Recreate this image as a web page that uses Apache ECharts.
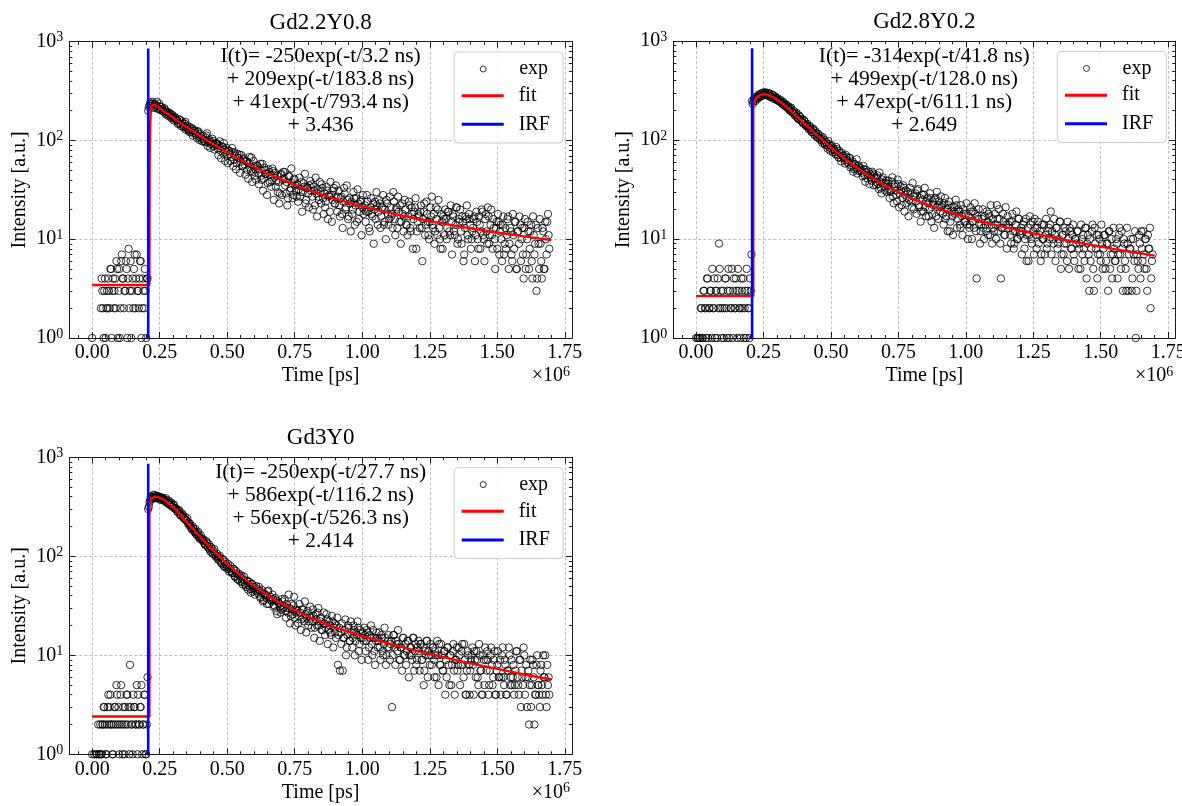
<!DOCTYPE html>
<html>
<head>
<meta charset="utf-8">
<script src="https://cdn.jsdelivr.net/npm/echarts@6/dist/echarts.min.js"></script>
<style>html,body{margin:0;padding:0;background:#fff}#chart{width:1182px;height:806px}</style>
</head>
<body>
<div id="chart"></div>
<script>
// ---------- data ----------
const panelTitles = ['Gd2.2Y0.8', 'Gd2.8Y0.2', 'Gd3Y0'];
const fitTexts = [
  ['I(t)= -250exp(-t/3.2 ns)', '+ 209exp(-t/183.8 ns)', '+ 41exp(-t/793.4 ns)', '+ 3.436'],
  ['I(t)= -314exp(-t/41.8 ns)', '+ 499exp(-t/128.0 ns)', '+ 47exp(-t/611.1 ns)', '+ 2.649'],
  ['I(t)= -250exp(-t/27.7 ns)', '+ 586exp(-t/116.2 ns)', '+ 56exp(-t/526.3 ns)', '+ 2.414']
];
const xTickLabels = ['0.00', '0.25', '0.50', '0.75', '1.00', '1.25', '1.50', '1.75'];
const xTickStep = 250000;
const yTickExponents = [0, 1, 2, 3];

// histogram bins (ps): "A" bins at k*5000, "B" bins at k*5000 + 2500
const binPitch = 5000;
const binOffsetB = 2500;

const gd22CountsA = [
  1, null, null, null, null, null, null, 4, 2, 3, 1, 3, 4, 2, 5, 3, 2, 4, 6, 1,
  5, 2, 7, 4, 3, 6, 1, 8, 3, 1, 4, 5, 2, 7, 3, 4, 6, 2, 3, 5, 1, 4,
  218, 241, 224, 236, 219, 228, 246, 212, 221, 207,
  209, 196, 203, 187, 192, 181, 186, 172, 176, 165,
  168, 159, 151, 162, 146, 149, 139, 154, 134, 130,
  137, 126, 131, 119, 127, 114, 122, 109, 117, 104,
  111, 99, 107, 118, 95, 101, 92, 104, 87, 90,
  94, 83, 89, 79, 86, 74, 81, 77, 70, 79,
  73, 68, 76, 64, 70, 59, 67, 72, 61, 55,
  64, 57, 62, 50, 59, 53, 67, 48, 55, 51,
  56, 47, 52, 44, 58, 41, 50, 46, 37, 48,
  45, 39, 49, 42, 34, 44, 38, 29, 46, 40,
  41, 35, 38, 26, 43, 33, 37, 28, 40, 31,
  36, 32, 27, 38, 30, 34, 23, 33, 29, 35,
  31, 27, 34, 22, 29, 32, 25, 30, 36, 26,
  29, 24, 31, 27, 19, 28, 25, 33, 23, 26,
  27, 22, 26, 18, 24, 29, 21, 25, 17, 23,
  24, 20, 26, 22, 15, 23, 19, 25, 21, 18,
  22, 19, 24, 13, 21, 18, 23, 20, 16, 22,
  19, 23, 17, 21, 14, 20, 25, 18, 16, 21,
  18, 30, 16, 20, 13, 19, 22, 15, 18, 17,
  20, 14, 17, 22, 12, 18, 16, 21, 8, 15,
  17, 19, 13, 16, 23, 14, 18, 11, 15, 17,
  14, 18, 12, 16, 20, 13, 8, 15, 17, 11,
  16, 13, 19, 11, 15, 18, 12, 14, 21, 10,
  15, 12, 17, 6, 13, 16, 11, 18, 14, 10,
  13, 17, 11, 15, 8, 14, 12, 19, 10, 16,
  12, 21, 9, 14, 11, 16, 10, 13, 8, 15,
  12, 10, 14, 7, 13, 11, 17, 9, 12, 6,
  11, 15, 5, 12, 9, 14, 10, 7, 13, 5,
  10, 12, 8, 14, 4, 11, 9, 3, 13, 5,
  9, 4, 12, 5, 10, 15, 11
];
const gd22CountsB = [
  null, null, null, null, null, null, 2, 3, 1, 4, 2, 2, 3, 5, 1, 4, 3, 2, 5, 3,
  1, 6, 4, 2, 3, 5, 4, 2, 6, 3, 2, 7, 4, 3, 2, 6, 1, 4, 2, 3, 4, 200,
  226, 233, 247, 214, 232, 225, 209, 236, 203, 218,
  199, 212, 184, 195, 177, 190, 168, 181, 159, 171,
  160, 147, 163, 141, 156, 136, 148, 128, 141, 125,
  121, 134, 112, 125, 119, 106, 124, 101, 112, 98,
  103, 96, 112, 88, 98, 84, 95, 99, 81, 93,
  92, 71, 98, 66, 87, 94, 62, 84, 59, 78,
  62, 84, 55, 76, 51, 73, 66, 47, 71, 56,
  66, 45, 61, 41, 68, 49, 38, 62, 44, 40,
  55, 36, 58, 40, 31, 53, 46, 28, 51, 38,
  34, 52, 25, 47, 39, 30, 23, 45, 28, 48,
  48, 29, 22, 44, 31, 52, 26, 41, 35, 27,
  24, 42, 30, 19, 37, 46, 25, 33, 21, 39,
  36, 20, 31, 42, 17, 27, 38, 23, 33, 18,
  21, 34, 16, 28, 38, 15, 31, 23, 35, 19,
  31, 17, 27, 13, 33, 20, 35, 16, 26, 12,
  18, 30, 14, 26, 32, 16, 24, 11, 28, 20,
  15, 28, 19, 12, 26, 17, 9, 24, 30, 14,
  25, 13, 21, 28, 15, 10, 23, 14, 27, 17,
  13, 24, 11, 21, 27, 15, 9, 23, 12, 25,
  14, 11, 24, 13, 21, 8, 19, 26, 12, 18,
  13, 22, 6, 19, 11, 24, 15, 10, 21, 27,
  13, 9, 21, 11, 25, 10, 18, 8, 16, 20,
  10, 19, 12, 22, 7, 17, 11, 21, 9, 16,
  20, 9, 15, 7, 17, 22, 10, 16, 8, 12,
  16, 6, 19, 10, 17, 8, 20, 11, 6, 18,
  9, 17, 11, 20, 8, 13, 5, 15, 18, 7,
  14, 6, 17, 9, 8, 16, 5, 13, 7, 18,
  8, 15, 5, 12, 17, 6, 13, 4, 16, 7,
  15, 5, 12, 6, 17, 7, 14, 4, 9, 16,
  6, 13, 5, 15, 7, 18, 8
];

const gd28CountsA = [
  1, 1, null, 1, 2, 1, 3, 2, 4, 1, 2, 3, 5, 2, 1, 3, 4, 9, 2, 1,
  3, 2, 4, 1, 5, 3, 2, 1, 4, 2, 3, 5, 2, 1, 3, 4, 2, 1, 3, 2, 4, 7,
  232, 262, 249, 271, 268, 283, 279, 296, 288, 302,
  291, 285, 298, 280, 273, 284, 266, 270, 259, 252,
  248, 241, 232, 236, 221, 226, 214, 205, 209, 193,
  190, 181, 185, 170, 163, 172, 156, 150, 159, 143,
  141, 134, 139, 127, 121, 130, 114, 118, 108, 112,
  104, 99, 107, 93, 96, 88, 98, 84, 87, 80,
  82, 76, 85, 71, 78, 66, 74, 69, 63, 71,
  63, 58, 66, 55, 61, 51, 57, 64, 49, 53,
  52, 47, 55, 44, 50, 41, 48, 45, 39, 46,
  44, 38, 42, 36, 47, 33, 40, 37, 31, 39,
  36, 32, 30, 38, 27, 34, 31, 24, 36, 29,
  31, 26, 33, 28, 23, 30, 25, 29, 21, 27,
  27, 24, 31, 22, 26, 19, 25, 28, 21, 24,
  23, 20, 26, 18, 22, 25, 17, 21, 24, 19,
  21, 18, 23, 16, 20, 22, 12, 19, 17, 21,
  18, 22, 16, 19, 13, 17, 20, 15, 18, 14,
  17, 14, 19, 15, 13, 18, 4, 16, 14, 12,
  16, 13, 17, 12, 15, 18, 11, 14, 16, 12,
  14, 22, 12, 16, 4, 13, 15, 11, 14, 17,
  13, 11, 15, 12, 9, 14, 10, 16, 12, 13,
  12, 15, 10, 6, 13, 11, 14, 9, 12, 16,
  11, 13, 9, 12, 7, 10, 14, 11, 8, 12,
  10, 19, 12, 9, 11, 13, 8, 10, 15, 7,
  11, 9, 12, 6, 10, 13, 8, 11, 7, 10,
  9, 12, 8, 5, 10, 11, 6, 13, 9, 7,
  10, 8, 14, 3, 9, 11, 7, 10, 6, 9,
  8, 11, 6, 9, 12, 5, 10, 7, 8, 6,
  9, 7, 13, 5, 8, 10, 6, 3, 9, 7,
  8, 3, 10, 6, 1, 7, 5, 9, 12, 6,
  7, 10, 5, 11, 8, 2, 6
];
const gd28CountsB = [
  null, 1, 1, 2, 1, 3, 2, 1, 4, 2, 3, 1, 2, 4, 3, 1, 2, 5, 3, 2,
  1, 4, 2, 3, 1, 2, 5, 3, 2, 4, 1, 3, 2, 4, 2, 1, 3, 5, 2, 1, 3, 250,
  245, 257, 276, 262, 290, 274, 299, 283, 305, 294,
  302, 279, 293, 271, 288, 262, 277, 255, 265, 246,
  256, 235, 244, 224, 230, 212, 219, 199, 213, 191,
  196, 176, 189, 165, 177, 158, 164, 147, 155, 139,
  146, 129, 136, 121, 128, 114, 123, 107, 116, 102,
  109, 94, 101, 90, 95, 82, 91, 78, 89, 75,
  79, 72, 81, 67, 74, 61, 70, 66, 58, 68,
  60, 66, 53, 59, 48, 57, 52, 46, 55, 50,
  49, 43, 51, 38, 47, 44, 36, 42, 48, 35,
  41, 35, 44, 32, 38, 29, 42, 34, 37, 30,
  39, 26, 31, 42, 23, 36, 28, 40, 21, 34,
  22, 35, 19, 31, 26, 17, 33, 24, 37, 20,
  29, 18, 32, 21, 15, 28, 19, 33, 17, 26,
  17, 29, 15, 24, 13, 26, 30, 16, 22, 27,
  22, 14, 26, 17, 12, 24, 15, 21, 11, 19,
  25, 13, 20, 14, 22, 11, 18, 15, 23, 10,
  13, 21, 10, 19, 23, 12, 17, 20, 9, 14,
  20, 10, 14, 19, 11, 17, 22, 9, 13, 18,
  10, 16, 20, 9, 13, 18, 11, 21, 8, 14,
  15, 9, 18, 8, 12, 19, 10, 16, 11, 7,
  14, 8, 16, 11, 6, 17, 10, 15, 7, 13,
  8, 15, 11, 6, 14, 10, 7, 16, 9, 13,
  14, 7, 10, 16, 6, 13, 9, 15, 5, 11,
  7, 13, 9, 15, 5, 12, 8, 14, 6, 10,
  12, 5, 9, 14, 7, 8, 13, 4, 11, 3,
  6, 12, 5, 13, 8, 4, 11, 7, 14, 5,
  11, 5, 9, 3, 12, 7, 4, 13, 6, 10,
  4, 11, 7, 12, 3, 9, 5, 13, 3, 8,
  10, 4, 7, 12, 3, 6, 11, 4, 8, 12,
  5, 10, 3, 8, 13, 4, 7
];

const gd3CountsA = [
  1, null, null, 1, null, 1, 2, 1, 2, 3, 1, 2, 4, 3, 2, 1, 2, 3, 5, 2,
  1, 4, 2, 3, 1, 2, 4, 3, 8, 2, 1, 3, 2, 5, 4, 2, 3, 1, 2, 4, 1, 6,
  318, 372, 395, 381, 412, 398, 386, 404, 391, 377,
  392, 369, 374, 351, 358, 336, 342, 321, 328, 305,
  298, 284, 289, 266, 258, 262, 241, 236, 229, 214,
  205, 198, 186, 192, 174, 168, 171, 155, 149, 152,
  143, 136, 131, 138, 122, 117, 124, 109, 113, 104,
  101, 95, 98, 89, 84, 92, 78, 83, 79, 74,
  76, 71, 68, 74, 62, 66, 58, 64, 61, 55,
  58, 54, 49, 56, 51, 47, 53, 44, 49, 45,
  47, 42, 45, 39, 43, 36, 41, 38, 44, 33,
  39, 35, 37, 32, 36, 26, 34, 31, 29, 35,
  31, 28, 33, 27, 30, 25, 29, 32, 24, 27,
  28, 25, 27, 23, 29, 22, 26, 24, 20, 25,
  24, 22, 25, 19, 23, 27, 20, 22, 18, 21,
  21, 19, 23, 18, 20, 16, 22, 19, 17, 20,
  8, 19, 17, 21, 15, 18, 10, 16, 19, 14,
  17, 15, 18, 14, 16, 19, 13, 15, 17, 14,
  16, 14, 17, 12, 15, 13, 18, 11, 14, 15,
  14, 12, 16, 11, 13, 15, 10, 14, 12, 13,
  3, 16, 12, 14, 11, 13, 9, 12, 15, 10,
  13, 11, 14, 10, 12, 9, 15, 11, 8, 12,
  11, 13, 9, 12, 7, 10, 14, 11, 8, 10,
  12, 9, 11, 6, 10, 13, 8, 10, 7, 11,
  9, 12, 8, 10, 5, 11, 7, 9, 12, 8,
  10, 8, 13, 6, 9, 4, 11, 8, 7, 10,
  8, 11, 6, 9, 5, 10, 7, 4, 9, 12,
  7, 9, 5, 10, 8, 6, 11, 4, 8, 6,
  9, 6, 12, 5, 8, 4, 7, 10, 6, 5,
  8, 5, 11, 6, 4, 9, 7, 5, 10, 6,
  3, 7, 5, 3, 9, 6, 4, 8, 5, 4,
  7, 5, 10, 6, 4, 8, 6
];
const gd3CountsB = [
  null, 1, null, 1, 2, 1, 1, 2, 3, 2, 1, 3, 2, 4, 2, 1, 3, 2, 4, 3,
  2, 5, 1, 2, 3, 4, 2, 1, 3, 2, 4, 3, 2, 1, 2, 3, 5, 2, 4, 1, 2, 300,
  352, 401, 388, 419, 393, 410, 384, 399, 372, 389,
  378, 362, 386, 344, 367, 331, 349, 316, 333, 302,
  304, 279, 292, 258, 271, 246, 252, 231, 242, 219,
  214, 191, 201, 180, 188, 164, 177, 158, 163, 146,
  148, 131, 142, 125, 132, 112, 120, 105, 118, 99,
  106, 92, 101, 86, 94, 80, 88, 76, 84, 70,
  80, 68, 75, 63, 71, 59, 67, 56, 64, 52,
  62, 51, 57, 46, 55, 43, 52, 47, 41, 50,
  44, 49, 38, 46, 35, 42, 40, 33, 45, 37,
  36, 41, 31, 38, 28, 35, 33, 27, 37, 30,
  37, 24, 30, 41, 21, 33, 26, 39, 20, 29,
  21, 33, 18, 29, 24, 35, 17, 28, 22, 31,
  19, 29, 15, 26, 20, 30, 14, 24, 18, 27,
  16, 26, 13, 22, 17, 25, 12, 21, 15, 24,
  16, 7, 13, 7, 15, 23, 12, 20, 14, 22,
  12, 20, 10, 17, 22, 11, 18, 9, 15, 19,
  11, 18, 9, 16, 20, 10, 15, 8, 17, 12,
  17, 9, 15, 10, 19, 8, 12, 16, 9, 14,
  10, 16, 8, 13, 18, 9, 12, 7, 15, 10,
  8, 14, 6, 12, 10, 15, 7, 13, 9, 14,
  7, 13, 9, 5, 11, 14, 6, 10, 13, 8,
  12, 6, 10, 14, 5, 8, 13, 7, 11, 4,
  6, 12, 5, 10, 8, 13, 4, 9, 7, 12,
  5, 11, 8, 13, 4, 7, 10, 4, 9, 12,
  4, 9, 11, 6, 13, 7, 4, 10, 5, 9,
  11, 4, 7, 12, 5, 9, 4, 7, 11, 6,
  4, 10, 6, 9, 4, 7, 12, 5, 9, 6,
  4, 7, 11, 5, 9, 3, 6, 12, 4, 8,
  6, 2, 9, 5, 8, 2, 4, 10, 5, 3,
  8, 4, 6, 10, 3, 5, 4
];

const gd22FitTime = [0, 212000, 213000, 215000, 217000, 220000, 224000, 230000, 250000, 275000, 300000, 350000, 400000, 450000, 500000, 550000, 600000, 650000, 700000, 800000, 900000, 1000000, 1100000, 1200000, 1300000, 1400000, 1500000, 1600000, 1700000];
const gd22FitValue = [3.44, 3.44, 69, 152, 195, 224, 234, 232, 212.5, 189.6, 169.6, 136.5, 111, 91, 75.6, 63.4, 53.9, 46.3, 40.3, 31.5, 25.6, 21.5, 18.5, 16.2, 14.4, 12.9, 11.7, 10.7, 9.8];

const gd28FitTime = [0, 212000, 212000, 220000, 230000, 240000, 250000, 260000, 280000, 300000, 325000, 350000, 400000, 450000, 500000, 550000, 600000, 650000, 700000, 800000, 900000, 1000000, 1100000, 1200000, 1300000, 1400000, 1500000, 1600000, 1700000];
const gd28FitValue = [2.65, 2.65, 234.6, 258.5, 277.7, 287.7, 291.1, 289.5, 276.4, 255.9, 227.1, 198.3, 148.6, 111.1, 84.3, 65.2, 51.7, 41.9, 34.8, 25.7, 20.2, 16.7, 14.1, 12.2, 10.7, 9.4, 8.4, 7.5, 6.8];

const gd3FitTime = [0, 212000, 212000, 216000, 222000, 232000, 242000, 252000, 270000, 300000, 325000, 350000, 400000, 450000, 500000, 550000, 600000, 650000, 700000, 800000, 900000, 1000000, 1100000, 1200000, 1300000, 1400000, 1500000, 1600000, 1700000];
const gd3FitValue = [2.41, 2.41, 330, 375, 392, 400, 398, 390, 368, 312, 265, 222.5, 157.5, 113.6, 84, 63.8, 50, 40.3, 33.4, 24.5, 19.1, 15.6, 13.1, 11.1, 9.6, 8.3, 7.3, 6.4, 5.7];

const irfTime = [207500, 207500];
const gd22Irf = [0.3, 855];
const gd28Irf = [0.3, 850];
const gd3Irf = [0.3, 860];

// ---------- layout (styles only) ----------
const FONT = 'Liberation Serif';
const panels = [
  { left: 69.3, top: 41.7, width: 502.7, height: 296.3 },
  { left: 673.3, top: 41.2, width: 502.0, height: 296.8 },
  { left: 69.3, top: 457.3, width: 502.7, height: 297.0 }
];
const panelData = [
  { a: gd22CountsA, b: gd22CountsB, fitT: gd22FitTime, fitV: gd22FitValue, irf: gd22Irf },
  { a: gd28CountsA, b: gd28CountsB, fitT: gd28FitTime, fitV: gd28FitValue, irf: gd28Irf },
  { a: gd3CountsA, b: gd3CountsB, fitT: gd3FitTime, fitV: gd3FitValue, irf: gd3Irf }
];
const X_MIN = -84600, X_MAX = 1776600;

const xMinor = [];
for (let v = -50000; v <= 1750000; v += 50000) { if (v % 250000 !== 0) xMinor.push(v); }
const yMinorLog = [];
for (let d = 0; d < 3; d++) for (let k = 2; k <= 9; k++) yMinorLog.push(Math.log10(k * Math.pow(10, d)));

const axisLineStyle = { color: '#1a1a1a', width: 1 };
const gridLineStyle = { color: '#b0b0b0', width: 0.8, type: [3, 2] };

const grid = [], xAxis = [], yAxis = [], series = [], title = [], legend = [], graphic = [];

panels.forEach((p, i) => {
  grid.push({ left: p.left, top: p.top, width: p.width, height: p.height, containLabel: false, outerBoundsMode: 'none' });
  const cx = p.left + p.width / 2;
  const right = p.left + p.width;
  const bottom = p.top + p.height;

  xAxis.push({
    gridIndex: i, type: 'value', position: 'bottom', min: X_MIN, max: X_MAX,
    minInterval: xTickStep, maxInterval: xTickStep,
    axisLine: { show: true, onZero: false, lineStyle: axisLineStyle },
    axisTick: { show: true, inside: true, length: 6, lineStyle: axisLineStyle },
    axisLabel: {
      show: true, margin: 5, color: '#000', fontFamily: FONT, fontSize: 20, lineHeight: 20,
      showMinLabel: true, showMaxLabel: true,
      formatter: v => { const k = Math.round(v / xTickStep); return (Math.abs(v - k * xTickStep) < 1 && k >= 0 && k < xTickLabels.length) ? xTickLabels[k] : ''; }
    },
    splitLine: { show: true, lineStyle: gridLineStyle },
    name: 'Time [ps]', nameLocation: 'middle', nameGap: 28,
    nameTextStyle: { color: '#000', fontFamily: FONT, fontSize: 20, lineHeight: 20 }
  });
  xAxis.push({
    gridIndex: i, type: 'value', position: 'top', min: X_MIN, max: X_MAX,
    minInterval: xTickStep, maxInterval: xTickStep,
    axisLine: { show: true, onZero: false, lineStyle: axisLineStyle },
    axisTick: { show: true, inside: true, length: 6, lineStyle: axisLineStyle },
    axisLabel: { show: false }, splitLine: { show: false }
  });
  ['bottom', 'top'].forEach(pos => xAxis.push({
    gridIndex: i, type: 'value', position: pos, min: X_MIN, max: X_MAX,
    axisLine: { show: false, onZero: false },
    axisTick: { show: true, inside: true, length: 3, lineStyle: axisLineStyle, customValues: xMinor },
    axisLabel: { show: false }, splitLine: { show: false }
  }));

  yAxis.push({
    gridIndex: i, type: 'log', logBase: 10, position: 'left', min: 1, max: 1000,
    axisLine: { show: true, onZero: false, lineStyle: axisLineStyle },
    axisTick: { show: true, inside: true, length: 6, lineStyle: axisLineStyle },
    axisLabel: {
      show: true, margin: 6, color: '#000', fontFamily: FONT,
      formatter: v => { const e = Math.round(Math.log10(v)); return yTickExponents.indexOf(e) >= 0 ? '{b|10}{s|' + e + '}' : ''; },
      rich: {
        b: { fontFamily: FONT, fontSize: 20, lineHeight: 22, color: '#000', fontWeight: 'normal' },
        s: { fontFamily: FONT, fontSize: 14, lineHeight: 14, verticalAlign: 'top', color: '#000', fontWeight: 'normal' }
      }
    },
    splitLine: { show: true, lineStyle: gridLineStyle },
    name: 'Intensity [a.u.]', nameLocation: 'middle', nameGap: 40, nameRotate: 90,
    nameTextStyle: { color: '#000', fontFamily: FONT, fontSize: 20, lineHeight: 20 }
  });
  yAxis.push({
    gridIndex: i, type: 'log', logBase: 10, position: 'right', min: 1, max: 1000,
    axisLine: { show: true, onZero: false, lineStyle: axisLineStyle },
    axisTick: { show: true, inside: true, length: 6, lineStyle: axisLineStyle },
    axisLabel: { show: false }, splitLine: { show: false }
  });
  ['left', 'right'].forEach(pos => yAxis.push({
    gridIndex: i, type: 'value', position: pos, min: 0, max: 3,
    axisLine: { show: false, onZero: false },
    axisTick: { show: true, inside: true, length: 3, lineStyle: axisLineStyle, customValues: yMinorLog },
    axisLabel: { show: false }, splitLine: { show: false }
  }));

  const d = panelData[i];
  const pts = [];
  d.a.forEach((c, k) => { if (c !== null) pts.push([k * binPitch, c]); });
  d.b.forEach((c, k) => { if (c !== null) pts.push([k * binPitch + binOffsetB, c]); });
  series.push({
    type: 'scatter', name: 'exp', xAxisIndex: 4 * i, yAxisIndex: 4 * i, data: pts,
    symbol: 'circle', symbolSize: 7.4, silent: true, z: 2,
    itemStyle: { color: 'rgba(0,0,0,0)', borderColor: '#000', borderWidth: 1 }
  });
  series.push({
    type: 'line', name: 'fit', xAxisIndex: 4 * i, yAxisIndex: 4 * i,
    data: d.fitT.map((t, k) => [t, d.fitV[k]]), showSymbol: false, symbol: 'none', silent: true, z: 3,
    lineStyle: { color: '#ff0000', width: 2.4 }, itemStyle: { color: '#ff0000' }
  });
  series.push({
    type: 'line', name: 'IRF', xAxisIndex: 4 * i, yAxisIndex: 4 * i,
    data: irfTime.map((t, k) => [t, d.irf[k]]), showSymbol: false, symbol: 'none', silent: true, z: 4,
    lineStyle: { color: '#0000ff', width: 2.6 }, itemStyle: { color: '#0000ff' }
  });

  title.push({
    text: panelTitles[i], left: cx, top: p.top - 31, textAlign: 'center', padding: 0,
    textStyle: { fontFamily: FONT, fontSize: 23, fontWeight: 'normal', color: '#000', lineHeight: 24 }
  });
  title.push({
    text: fitTexts[i].join('\n'), left: cx, top: p.top + 3.5, textAlign: 'center', padding: 0, z: 6,
    textStyle: { fontFamily: FONT, fontSize: 21.5, fontWeight: 'normal', color: '#000', lineHeight: 23 }
  });
  title.push({
    text: '{m|×10}{s|6}', left: right - 2, top: bottom + 27, textAlign: 'right', padding: 0,
    textStyle: {
      fontWeight: 'normal',
      rich: {
        m: { fontFamily: FONT, fontSize: 20, lineHeight: 22, color: '#000', fontWeight: 'normal' },
        s: { fontFamily: FONT, fontSize: 14, lineHeight: 14, verticalAlign: 'top', color: '#000', fontWeight: 'normal' }
      }
    }
  });

  graphic.push({
    type: 'rect', z: 8, silent: true,
    shape: { x: right - 118, y: p.top + 10.3, width: 109, height: 91, r: 4 },
    style: { fill: 'rgba(255,255,255,0.85)', stroke: '#cccccc', lineWidth: 1 }
  });
  const legX = right - 110.3;
  const entries = [
    { cy: p.top + 27.3, h: 6, dx: 18, item: { name: 'exp', icon: 'circle', itemStyle: { color: 'rgba(0,0,0,0)', borderColor: '#000', borderWidth: 1 } } },
    { cy: p.top + 54.0, h: 3, dx: 0, item: { name: 'fit', icon: 'rect', itemStyle: { color: '#ff0000', borderWidth: 0 } } },
    { cy: p.top + 82.6, h: 3, dx: 0, item: { name: 'IRF', icon: 'rect', itemStyle: { color: '#0000ff', borderWidth: 0 } } }
  ];
  entries.forEach(e => legend.push({
    data: [e.item], left: legX + e.dx, top: e.cy - 10, orient: 'horizontal', padding: 0,
    itemWidth: 42, itemHeight: e.h, selectedMode: false, z: 10,
    formatter: n => '  ' + n,
    textStyle: { fontFamily: FONT, fontSize: 20, color: '#000', lineHeight: 20 }
  }));
});

const chart = echarts.init(document.getElementById('chart'), null, { renderer: 'canvas' });
chart.setOption({
  animation: false,
  backgroundColor: '#ffffff',
  textStyle: { fontFamily: FONT },
  grid, xAxis, yAxis, series, title, legend, graphic
});
</script>
</body>
</html>
